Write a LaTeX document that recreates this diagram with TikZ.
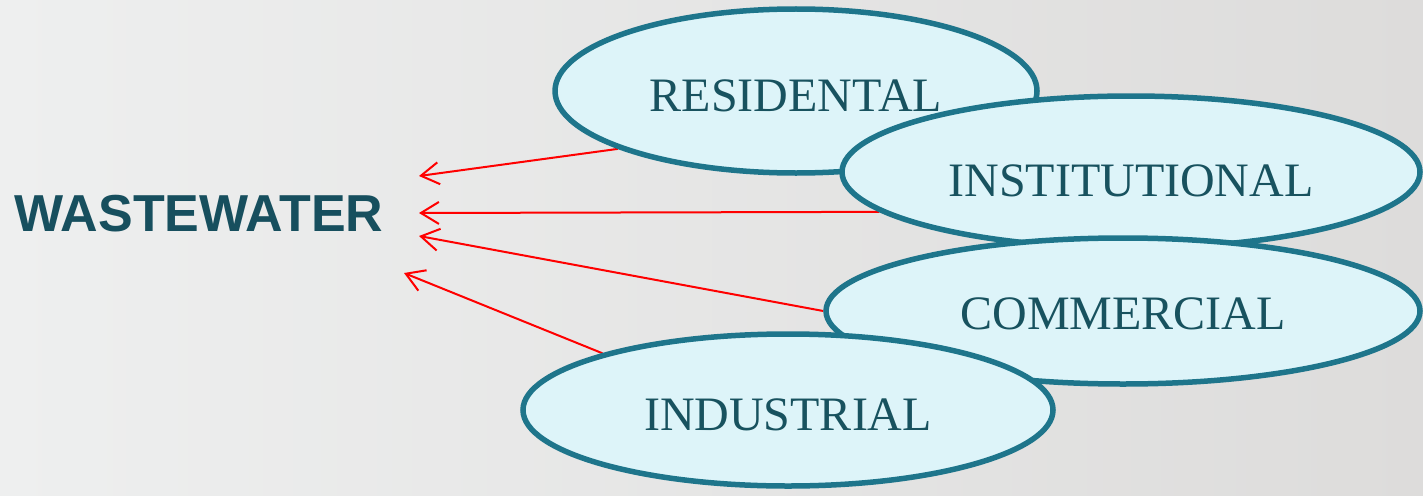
\documentclass[tikz,border=0pt]{standalone}
\usepackage{fontspec}
\setmainfont{Liberation Serif}
\newfontfamily\headsans{Liberation Sans}
\usetikzlibrary{shapes.geometric,arrows.meta}
\pgfdeclarelayer{paper}
\pgfdeclarelayer{lines}
\pgfsetlayers{paper,lines,main}
\definecolor{bgleft}{HTML}{EEEFEF}
\definecolor{bgright}{HTML}{DDDCDB}
\definecolor{ellfill}{HTML}{DDF4F9}
\definecolor{elldraw}{HTML}{1E758B}
\definecolor{elltext}{HTML}{18525F}
\definecolor{headcol}{HTML}{174F5E}
\tikzset{
  source/.style={ellipse, draw=elldraw, fill=ellfill, line width=5.5pt,
    inner sep=0pt, text=elltext, font=\fontsize{48}{50}\selectfont, text depth=0pt},
  flow/.style={draw=red, line width=2pt, -{Straight Barb[length=18pt,width=22pt]}},
  heading/.style={font=\headsans\bfseries\fontsize{52}{54}\selectfont, text=headcol, inner sep=0pt}
}
\begin{document}
\begin{tikzpicture}[x=1pt,y=-1pt]
\begin{pgfonlayer}{paper}
\shade[left color=bgleft, right color=bgright] (0,0) rectangle (1423,495);
\end{pgfonlayer}
\useasboundingbox (0,0) rectangle (1423,495);
% heading
\node[heading] (ww) at (199,214) {WASTEWATER};
% arrow tips
\coordinate (t1) at (419,176);
\coordinate (t2) at (419,213);
\coordinate (t3) at (419,236);
\coordinate (t4) at (404,273);
% sources
\node[source, minimum width=482pt, minimum height=164pt, text height=40pt] (res) at (796,91) {RESIDENTAL};
\node[source, minimum width=578pt, minimum height=152pt, text height=48pt] (inst) at (1131,172) {INSTITUTIONAL};
\node[source, minimum width=594pt, minimum height=146pt, text height=36pt] (comm) at (1123,311) {COMMERCIAL};
\node[source, minimum width=530pt, minimum height=152pt, text height=40pt] (ind) at (788,410) {INDUSTRIAL};
% arrows beneath the ellipses
\begin{pgfonlayer}{lines}
\draw[flow] (res.198) -- (t1);
\draw[flow] (inst.189) -- (t2);
\draw[flow] (comm.180) -- (t3);
\draw[flow] (ind.163) -- (t4);
\end{pgfonlayer}
\end{tikzpicture}
\end{document}
